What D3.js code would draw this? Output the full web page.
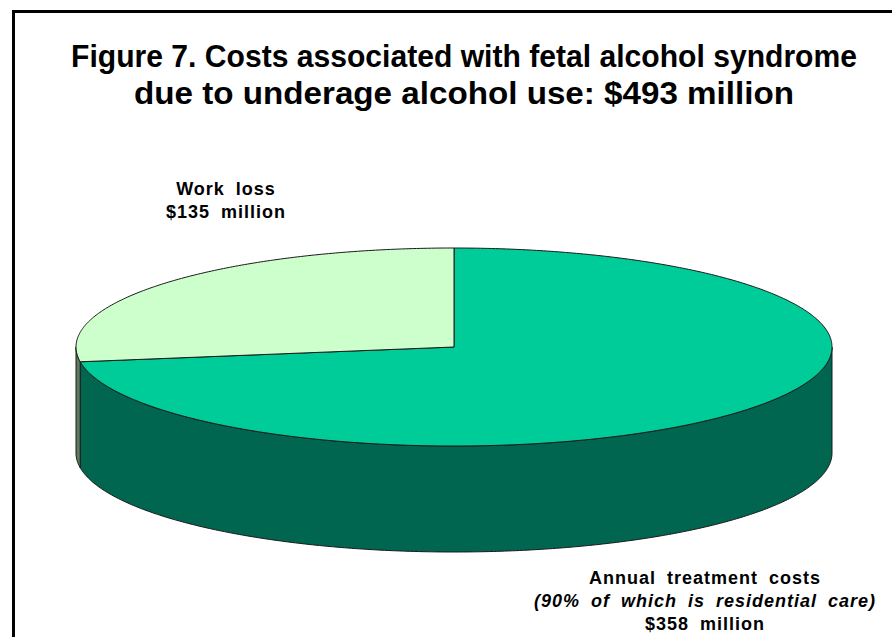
<!DOCTYPE html>
<html>
<head>
<meta charset="utf-8">
<script src="https://cdn.jsdelivr.net/npm/d3@7"></script>
<style>
  html, body { margin: 0; padding: 0; background: #fff; }
  svg { display: block; font-family: "Liberation Sans", Arial, sans-serif; }
</style>
</head>
<body>
<svg id="chart" width="892" height="637"></svg>
<script>
// Cost components (millions of dollars)
const categories = ["Annual treatment costs", "Work loss"];
const values = [358, 135];
const topColors = ["#00CC99", "#CCFFCC"];
const sideColors = ["#006650", "#5E7A60"];

const titleLines = [
  "Figure 7. Costs associated with fetal alcohol syndrome",
  "due to underage alcohol use: $493 million"
];
const titleWidths = [786, 660];

const W = 892, H = 637;
const svg = d3.select("#chart");

// Frame around the figure
svg.append("rect")
  .attr("x", 13.5).attr("y", 11.5)
  .attr("width", W + 20).attr("height", H + 20)
  .attr("fill", "none").attr("stroke", "#000").attr("stroke-width", 3);

// Title
svg.append("g").selectAll("text")
  .data(titleLines)
  .join("text")
  .attr("x", 464)
  .attr("y", (d, i) => 67 + i * 37)
  .attr("text-anchor", "middle")
  .attr("font-size", 30.5)
  .attr("font-weight", "bold")
  .attr("textLength", (d, i) => titleWidths[i])
  .attr("lengthAdjust", "spacingAndGlyphs")
  .attr("fill", "#000")
  .text(d => d);

// 3-D pie geometry
const cx = 454, cy = 347, rx = 378, ry = 99, depth = 106;

const pie = d3.pie().sort(null).startAngle(0).endAngle(2 * Math.PI);
const arcs = pie(values);

// Map a pie angle (clockwise from 12 o'clock) onto the tilted ellipse
const px = a => cx + rx * Math.sin(a);
const py = (a, dz = 0) => cy - ry * Math.cos(a) + dz;
const line = d3.line();

function arcPoints(a0, a1, dz) {
  const n = Math.max(2, Math.ceil(Math.abs(a1 - a0) / 0.01));
  return d3.range(n + 1).map(i => {
    const a = a0 + (a1 - a0) * i / n;
    return [px(a), py(a, dz)];
  });
}

// Visible rim: the front half of the ellipse (angles between 90° and 270°)
const gSide = svg.append("g");
arcs.forEach((d, i) => {
  const a0 = Math.max(d.startAngle, Math.PI / 2);
  const a1 = Math.min(d.endAngle, 3 * Math.PI / 2);
  if (a1 <= a0) return;
  const pts = arcPoints(a0, a1, 0).concat(arcPoints(a1, a0, depth));
  gSide.append("path")
    .attr("d", line(pts) + "Z")
    .attr("fill", sideColors[i])
    .attr("stroke", "#1a1a1a")
    .attr("stroke-width", 1)
    .attr("stroke-linejoin", "round");
});

// Top faces
const gTop = svg.append("g");
arcs.forEach((d, i) => {
  const pts = [[cx, cy]].concat(arcPoints(d.startAngle, d.endAngle, 0));
  gTop.append("path")
    .attr("d", line(pts) + "Z")
    .attr("fill", topColors[i])
    .attr("stroke", "#1a1a1a")
    .attr("stroke-width", 1)
    .attr("stroke-linejoin", "round");
});

// Slice labels
const fmt = v => "$" + v + " million";
const labels = [
  { x: 705, y: 584, lines: [
      { t: categories[0], italic: false },
      { t: "(90% of which is residential care)", italic: true },
      { t: fmt(values[0]), italic: false } ] },
  { x: 226, y: 195, lines: [
      { t: categories[1], italic: false },
      { t: fmt(values[1]), italic: false } ] }
];

labels.forEach(L => {
  svg.append("g").selectAll("text")
    .data(L.lines)
    .join("text")
    .attr("x", L.x)
    .attr("y", (d, i) => L.y + i * 23)
    .attr("text-anchor", "middle")
    .attr("font-size", 18)
    .attr("font-weight", "bold")
    .attr("font-style", d => d.italic ? "italic" : "normal")
    .attr("letter-spacing", 1)
    .attr("word-spacing", 5)
    .attr("fill", "#000")
    .text(d => d.t);
});
</script>
</body>
</html>
